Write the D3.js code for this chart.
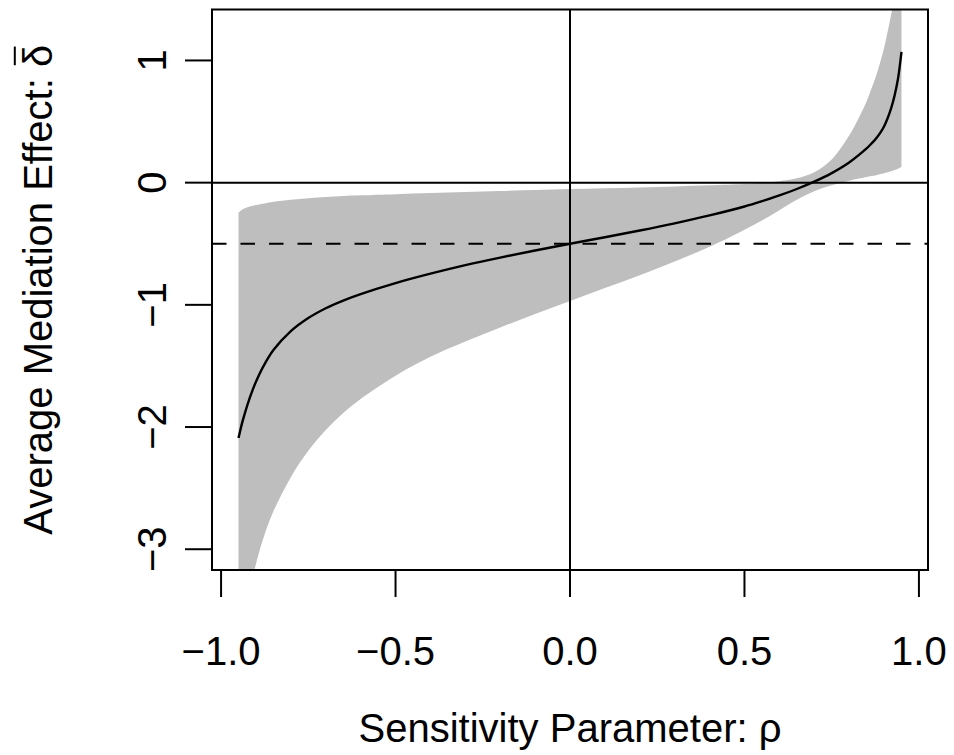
<!DOCTYPE html>
<html>
<head>
<meta charset="utf-8">
<script src="https://cdn.jsdelivr.net/npm/d3@7"></script>
<style>
  html, body { margin: 0; padding: 0; background: #fff; }
  svg { display: block; }
  text { font-family: "Liberation Sans", Arial, Helvetica, sans-serif; fill: #000; }
</style>
</head>
<body>
<svg id="chart" width="954" height="755"></svg>
<script>
// Sensitivity parameter grid (rho)
const rho = [-0.95,-0.94,-0.93,-0.92,-0.91,-0.9,-0.88,-0.85,-0.8,-0.75,-0.7,-0.65,-0.6,-0.5,-0.4,-0.3,-0.2,-0.1,0,0.1,0.2,0.3,0.4,0.5,0.55,0.6,0.65,0.7,0.75,0.8,0.85,0.86,0.87,0.88,0.89,0.9,0.91,0.92,0.93,0.94,0.95];
// Average mediation effect estimate
const acme = [-2.09,-1.97,-1.87,-1.78,-1.70,-1.63,-1.51,-1.37,-1.215,-1.108,-1.028,-0.965,-0.912,-0.822,-0.745,-0.675,-0.613,-0.555,-0.5,-0.447,-0.392,-0.333,-0.268,-0.195,-0.152,-0.105,-0.052,0.008,0.078,0.165,0.28,0.308,0.338,0.372,0.412,0.46,0.525,0.605,0.71,0.85,1.07];
// Confidence band upper bound
const upper = [-0.245,-0.222,-0.208,-0.198,-0.19,-0.183,-0.172,-0.157,-0.14,-0.128,-0.118,-0.11,-0.104,-0.094,-0.085,-0.076,-0.068,-0.06,-0.053,-0.046,-0.039,-0.031,-0.022,-0.011,-0.002,0.011,0.035,0.085,0.19,0.385,0.665,0.74,0.815,0.9,0.995,1.1,1.23,1.37,1.52,1.7,1.92];
// Confidence band lower bound
const lower = [-3.98,-3.74,-3.54,-3.38,-3.24,-3.12,-2.92,-2.69,-2.41,-2.195,-2.025,-1.885,-1.77,-1.58,-1.425,-1.3,-1.185,-1.075,-0.968,-0.862,-0.757,-0.645,-0.525,-0.385,-0.31,-0.225,-0.14,-0.07,-0.022,0.016,0.046,0.052,0.057,0.063,0.07,0.077,0.085,0.093,0.103,0.114,0.13];
// Reference values
const acmeAtZero = -0.5;
const xTicks = [-1.0, -0.5, 0.0, 0.5, 1.0];
const xTickLabels = ["\u22121.0", "\u22120.5", "0.0", "0.5", "1.0"];
const yTicks = [-3, -2, -1, 0, 1];
const yTickLabels = ["\u22123", "\u22122", "\u22121", "0", "1"];
const xTitle = "Sensitivity Parameter: \u03C1";
const yTitleMain = "Average Mediation Effect: ";
const yTitleSym = "\u03B4";

const svg = d3.select("#chart");
const L = 212, R = 928, T = 9.5, B = 570;
const x = d3.scaleLinear().domain([-1.026, 1.026]).range([L, R]);
const y = d3.scaleLinear().domain([-3.17, 1.417]).range([B, T]);

const data = rho.map((r, i) => ({ r, m: acme[i], u: upper[i], l: lower[i] }));

svg.append("clipPath").attr("id", "plotclip")
  .append("rect").attr("x", L).attr("y", T).attr("width", R - L).attr("height", B - T);

const plot = svg.append("g").attr("clip-path", "url(#plotclip)");
const smooth = d3.curveCatmullRom.alpha(0.5);

// band
plot.append("path")
  .datum(data)
  .attr("fill", "#BEBEBE")
  .attr("stroke", "none")
  .attr("d", d3.area().x(d => x(d.r)).y0(d => y(d.l)).y1(d => y(d.u)).curve(smooth));

// reference lines
plot.append("line")
  .attr("x1", L).attr("x2", R).attr("y1", y(0)).attr("y2", y(0))
  .attr("stroke", "#000").attr("stroke-width", 2);
plot.append("line")
  .attr("x1", x(0)).attr("x2", x(0)).attr("y1", T).attr("y2", B)
  .attr("stroke", "#000").attr("stroke-width", 2);
plot.append("line")
  .attr("x1", L).attr("x2", R).attr("y1", y(acmeAtZero)).attr("y2", y(acmeAtZero))
  .attr("stroke", "#000").attr("stroke-width", 2)
  .attr("stroke-dasharray", "14.5,14");

// estimate curve
plot.append("path")
  .datum(data)
  .attr("fill", "none")
  .attr("stroke", "#000")
  .attr("stroke-width", 2.4)
  .attr("d", d3.line().x(d => x(d.r)).y(d => y(d.m)).curve(smooth));

// box
svg.append("rect")
  .attr("x", L).attr("y", T).attr("width", R - L).attr("height", B - T)
  .attr("fill", "none").attr("stroke", "#000").attr("stroke-width", 2);

const FS = 40;
// x axis
const xa = svg.append("g");
xa.append("line").attr("x1", x(xTicks[0])).attr("x2", x(xTicks[xTicks.length-1]))
  .attr("y1", B).attr("y2", B).attr("stroke", "#000").attr("stroke-width", 2);
xTicks.forEach((t, i) => {
  xa.append("line").attr("x1", x(t)).attr("x2", x(t)).attr("y1", B).attr("y2", B + 27)
    .attr("stroke", "#000").attr("stroke-width", 2);
  xa.append("text").attr("x", x(t)).attr("y", 665).attr("text-anchor", "middle")
    .attr("font-size", FS).text(xTickLabels[i]);
});
// y axis
const ya = svg.append("g");
ya.append("line").attr("x1", L).attr("x2", L)
  .attr("y1", y(yTicks[0])).attr("y2", y(yTicks[yTicks.length-1])).attr("stroke", "#000").attr("stroke-width", 2);
yTicks.forEach((t, i) => {
  ya.append("line").attr("x1", L - 27).attr("x2", L).attr("y1", y(t)).attr("y2", y(t))
    .attr("stroke", "#000").attr("stroke-width", 2);
  ya.append("text").attr("transform", `translate(166,${y(t)}) rotate(-90)`)
    .attr("text-anchor", "middle").attr("font-size", FS).text(yTickLabels[i]);
});

// titles
svg.append("text").attr("x", (L + R) / 2).attr("y", 742).attr("text-anchor", "middle")
  .attr("font-size", FS).text(xTitle);

const yt = svg.append("g").attr("transform", `translate(52,${(T + B) / 2}) rotate(-90)`);
const ytText = yt.append("text").attr("text-anchor", "middle").attr("font-size", FS);
ytText.append("tspan").text(yTitleMain);
ytText.append("tspan").text(yTitleSym);
const idx = (yTitleMain + yTitleSym).length - 1;
const ext = ytText.node().getExtentOfChar(idx);
const barY = -FS * 0.93;
yt.append("line")
  .attr("x1", ext.x + ext.width * 0.08).attr("x2", ext.x + ext.width * 0.92)
  .attr("y1", barY).attr("y2", barY)
  .attr("stroke", "#000").attr("stroke-width", 2);
</script>
</body>
</html>
